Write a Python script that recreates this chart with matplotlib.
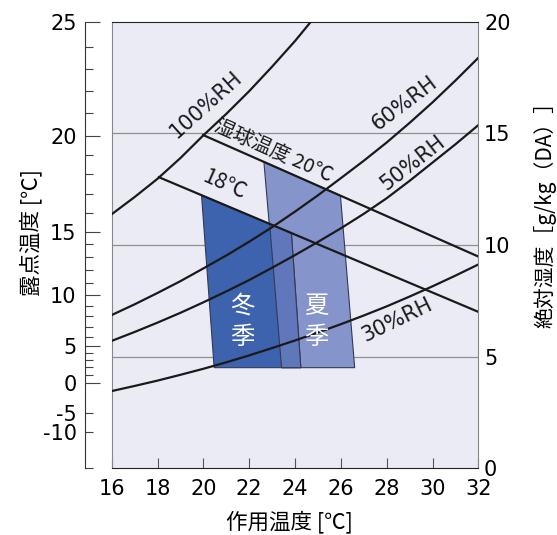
import matplotlib.pyplot as plt
from matplotlib.patches import Polygon

# operative temperature grid where curves were read [degC]
tempPoints = [16, 17, 18, 19, 20, 21, 22, 23, 24, 25, 26, 27, 28, 29, 30, 31, 32]
rh100 = [11.38, 12.15, 12.97, 13.9, 14.92, 15.88, 16.9, 18.0, 19.15, 20.4, 21.7]
rh60 = [6.86, 7.34, 7.85, 8.38, 8.95, 9.53, 10.15, 10.8, 11.5, 12.23, 13.0,
        13.78, 14.6, 15.48, 16.4, 17.38, 18.4]
rh50 = [5.70, 6.1, 6.52, 6.96, 7.43, 7.92, 8.43, 8.98, 9.55, 10.14, 10.75,
        11.4, 12.1, 12.88, 13.7, 14.52, 15.38]
rh30 = [3.45, 3.68, 3.92, 4.18, 4.45, 4.74, 5.05, 5.38, 5.72, 6.08, 6.45,
        6.84, 7.25, 7.69, 8.15, 8.63, 9.13]

# wet bulb lines (start on saturation curve, end at right edge)
wetBulb20Temp = [19.99, 32]
wetBulb20Hum = [14.93, 9.48]
wetBulb18Temp = [18.06, 32]
wetBulb18Hum = [13.04, 7.0]

# comfort zones
winterTemp = [19.92, 20.47, 24.25, 23.84]
winterHum = [12.23, 4.5, 4.5, 10.54]
summerTemp = [22.64, 23.41, 26.6, 25.98]
summerHum = [13.73, 4.5, 4.5, 12.21]
overlapTemp = [22.89, 23.84, 24.25, 23.41]
overlapHum = [10.95, 10.54, 4.5, 4.5]

# axes
xTicks = [16, 18, 20, 22, 24, 26, 28, 30, 32]
humTicks = [0, 5, 10, 15, 20]
gridHum = [5, 10, 15]
dewMajor = [25, 20, 15, 10, 5, 0]
dewMajorHum = [20.0, 14.89, 10.57, 7.76, 5.45, 3.82]
dewSmall = [-5, -10]
dewSmallHum = [2.48, 1.63]
dewMinorHum = [18.9, 17.9, 16.9, 15.9, 14.04, 13.17, 12.29, 11.42,
               10.04, 9.48, 8.88, 8.31, 7.28, 6.82, 6.34, 5.89,
               5.17, 4.84, 4.52, 4.17]

cjk = ['Noto Sans CJK JP', 'DejaVu Sans']


def main():
    fig = plt.figure(figsize=(5.57, 5.35), dpi=100)
    ax = fig.add_axes([0.2005, 0.1252, 0.6585, 0.8337])
    ax.set_facecolor('#ebebf5')
    ax.set_xlim(16, 32)
    ax.set_ylim(0, 20)

    for h in gridHum:
        ax.axhline(h, color='#8f8f8f', lw=0.9, zorder=1)

    ax.add_patch(Polygon(list(zip(summerTemp, summerHum)), closed=True,
                         facecolor='#8594cb', edgecolor='#333a55', lw=0.8, zorder=2))
    ax.add_patch(Polygon(list(zip(winterTemp, winterHum)), closed=True,
                         facecolor='#3d62ae', edgecolor='#333a55', lw=0.8, zorder=2))
    ax.add_patch(Polygon(list(zip(overlapTemp, overlapHum)), closed=True,
                         facecolor='#6077bb', edgecolor='#333a55', lw=0.8, zorder=3))

    for curve in [rh100, rh60, rh50, rh30]:
        ax.plot(tempPoints[:len(curve)], curve, color='#1a1a1a', lw=1.6,
                solid_joinstyle='round', zorder=4)
    ax.plot(wetBulb20Temp, wetBulb20Hum, color='#1a1a1a', lw=1.6, zorder=4)
    ax.plot(wetBulb18Temp, wetBulb18Hum, color='#1a1a1a', lw=1.6, zorder=4)

    lab = dict(color='#1a1a1a', ha='center', va='center',
               rotation_mode='anchor', zorder=5)
    ax.text(20.11, 16.28, '100%RH', rotation=42, fontsize=15, **lab)
    ax.text(28.78, 16.37, '60%RH', rotation=37, fontsize=15, **lab)
    ax.text(29.13, 13.68, '50%RH', rotation=38, fontsize=15, **lab)
    ax.text(28.43, 6.64, '30%RH', rotation=26, fontsize=15, **lab)
    ax.text(23.05, 14.22, '湿球温度 20℃', rotation=-24, fontsize=14.5, family=cjk, **lab)
    ax.text(20.92, 12.72, '18℃', rotation=-24, fontsize=15.5, family=cjk, **lab)
    ax.text(21.72, 6.59, '冬\n季', fontsize=17.5, color='white', ha='center',
            va='center', linespacing=1.25, family=cjk, zorder=5)
    ax.text(24.94, 6.59, '夏\n季', fontsize=17.5, color='white', ha='center',
            va='center', linespacing=1.25, family=cjk, zorder=5)

    ax.set_xticks(xTicks)
    ax.tick_params(axis='x', direction='in', length=7, width=0.8, color='#555555',
                   labelsize=15, pad=8, top=False)
    ax.yaxis.tick_right()
    ax.set_yticks(humTicks)
    ax.tick_params(axis='y', length=0, labelsize=15, pad=4)
    for side in ['left', 'right']:
        ax.spines[side].set_color('#888888')
    for side in ['top', 'bottom']:
        ax.spines[side].set_color('#222222')

    # dew point axis
    dew = fig.add_axes([85 / 557, 0.1252, 0.03, 0.8337])
    dew.set_ylim(0, 20)
    dew.patch.set_visible(False)
    for side in ['top', 'right', 'bottom']:
        dew.spines[side].set_visible(False)
    dew.spines['left'].set_color('#333333')
    dew.spines['left'].set_linewidth(0.8)
    dew.set_xticks([])
    dew.set_yticks(dewMajorHum + dewSmallHum)
    dew.set_yticklabels([str(v) for v in dewMajor + dewSmall])
    dew.set_yticks(dewMinorHum + [0], minor=True)
    dew.tick_params(axis='y', which='major', direction='in', length=11,
                    width=0.8, color='#444444', labelsize=15, pad=6)
    dew.tick_params(axis='y', which='minor', direction='in', length=6,
                    width=0.8, color='#444444')
    for t in dew.yaxis.get_major_ticks()[-2:]:
        t.tick1line.set_markersize(6)

    fig.text(0.055, 0.566, '露点温度 [℃]', rotation=90, fontsize=15.5,
             family=cjk, ha='center', va='center')
    fig.text(0.978, 0.608, '絶対湿度［g/kg（DA）］', rotation=90, fontsize=15,
             family=cjk, ha='center', va='center')
    fig.text(0.52, 0.024, '作用温度 [℃]', fontsize=15.5, family=cjk,
             ha='center', va='center')

    fig.savefig('out.png', dpi=100)


if __name__ == '__main__':
    main()
